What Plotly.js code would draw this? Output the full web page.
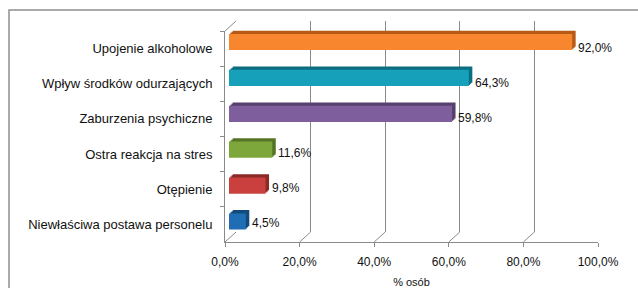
<!DOCTYPE html>
<html><head><meta charset="utf-8">
<script src="https://cdn.plot.ly/plotly-3.0.1.min.js"></script>
<style>html,body{margin:0;padding:0;background:#fff;overflow:hidden}</style>
</head><body><div id="chart" style="width:638px;height:288px"></div>
<script>
// ---- data ----
const categories = ["Upojenie alkoholowe", "Wpływ środków odurzających", "Zaburzenia psychiczne",
                    "Ostra reakcja na stres", "Otępienie", "Niewłaściwa postawa personelu"];
const values = [92.0, 64.3, 59.8, 11.6, 9.8, 4.5];
const xTickValues = [0, 20, 40, 60, 80, 100];
const axisTitle = "% osób";

// ---- style ----
const faceColors = ["#F7862E", "#16A0BA", "#7F5E9E", "#7DA63B", "#C9403E", "#1F6EB5"];
const sideColors = ["#B85A16", "#0C6E82", "#56406F", "#567426", "#8C2A28", "#134B7E"];
const gridColor = "#8a8a8a";
const W = 638, H = 288;
const fx = p => p / W, fy = p => 1 - p / H;
const FRONT = {x0: 225, x1: 598, yt: 31, yb: 242};
const WALL = {dx: 11, dy: 10};
const BAR = {x0: 229, x1: 602, yt: 24.1, yb: 239.4};
const DEPTH = {dx: 3.5, dy: 3.3, steps: 3};
const FONT = "Liberation Sans, Arial, sans-serif";
const fmtPct = v => v.toFixed(1).replace(".", ",") + "%";

function dom(x0, x1, yt, yb) { return {x: [fx(x0), fx(x1)], y: [fy(yb), fy(yt)]}; }

const layout = {
  width: W, height: H, margin: {l: 0, r: 0, t: 0, b: 0},
  paper_bgcolor: "#ffffff", plot_bgcolor: "rgba(0,0,0,0)",
  showlegend: false, separators: ", ", barmode: "overlay",
  font: {family: FONT, color: "#111", size: 12},
  shapes: [], annotations: []
};

// back wall (grid)
const wd = dom(FRONT.x0 + WALL.dx - 0.1, FRONT.x1 + WALL.dx + 0.1, FRONT.yt - WALL.dy, FRONT.yb - WALL.dy);
layout.xaxis = {domain: wd.x, anchor: "y", range: [-0.03, 100.03], tickmode: "array", tickvals: xTickValues, showgrid: true,
  gridcolor: gridColor, gridwidth: 1, showticklabels: false, ticks: "", zeroline: false, showline: false, fixedrange: true};
layout.yaxis = {domain: wd.y, anchor: "x", range: [0, 1], showgrid: false, showticklabels: false, ticks: "",
  zeroline: false, showline: false, fixedrange: true};

// front axes
const fd = dom(FRONT.x0, FRONT.x1, FRONT.yt, FRONT.yb);
layout.xaxis2 = {domain: fd.x, anchor: "y2", range: [0, 100],
  tickmode: "array", tickvals: xTickValues, ticktext: xTickValues.map(fmtPct),
  ticks: "outside", ticklen: 4, tickcolor: gridColor,
  showline: true, linecolor: gridColor, linewidth: 1, showgrid: false, zeroline: false,
  ticklabelstandoff: 5, tickfont: {size: 12, color: "#111"},
  title: {text: axisTitle, font: {size: 11, color: "#111"}, standoff: 15}, fixedrange: true};
layout.yaxis2 = {domain: fd.y, anchor: "x2", type: "category",
  categoryorder: "array", categoryarray: categories, range: [categories.length - 0.5, -0.5],
  ticks: "outside", tickson: "boundaries", ticklen: 4, tickcolor: gridColor,
  showline: true, linecolor: gridColor, linewidth: 1, showgrid: false, zeroline: false,
  ticklabelstandoff: 9, tickfont: {size: 13, color: "#111"}, fixedrange: true};

const traces = [
  {type: "scatter", x: xTickValues, y: xTickValues.map(() => 0.5), xaxis: "x", yaxis: "y",
   mode: "markers", marker: {opacity: 0}, hoverinfo: "skip"},
  {type: "scatter", x: values, y: categories, xaxis: "x2", yaxis: "y2",
   mode: "markers", marker: {opacity: 0}, hoverinfo: "skip"}
];

// bar layers: back (side colors) to front (face colors)
for (let k = 0; k <= DEPTH.steps; k++) {
  const id = 3 + k;
  const f = (DEPTH.steps - k) / DEPTH.steps;
  const d = dom(BAR.x0 + DEPTH.dx * f, BAR.x1 + DEPTH.dx * f, BAR.yt - DEPTH.dy * f, BAR.yb - DEPTH.dy * f);
  layout["xaxis" + id] = {domain: d.x, anchor: "y" + id, range: [0, 100], visible: false, fixedrange: true};
  layout["yaxis" + id] = {domain: d.y, anchor: "x" + id, type: "category",
    categoryorder: "array", categoryarray: categories, range: [categories.length - 0.5, -0.5], visible: false, fixedrange: true};
  traces.push({
    type: "bar", orientation: "h", x: values, y: categories, xaxis: "x" + id, yaxis: "y" + id,
    width: 0.45, hoverinfo: "skip",
    marker: {color: k === DEPTH.steps ? faceColors : sideColors, line: {width: 0}}
  });
}

// data labels
values.forEach((v, i) => {
  layout.annotations.push({xref: "x2", yref: "y2", x: v, y: categories[i],
    text: fmtPct(v), showarrow: false, xanchor: "left", xshift: 8, yshift: 1,
    font: {size: 12, color: "#111"}});
});

// 3D floor / side edges
xTickValues.forEach(v => {
  layout.shapes.push({type: "line", xref: "x2", yref: "y2 domain", xsizemode: "pixel", xanchor: v,
    x0: 0, x1: WALL.dx, ysizemode: "pixel", yanchor: 0, y0: 0, y1: WALL.dy,
    line: {color: gridColor, width: 1}});
});
layout.shapes.push({type: "line", xref: "x2", yref: "y2 domain", xsizemode: "pixel", xanchor: 0,
  x0: 0, x1: WALL.dx, ysizemode: "pixel", yanchor: 1, y0: 0, y1: WALL.dy,
  line: {color: gridColor, width: 1}});

// outer border
layout.shapes.push({type: "rect", xref: "paper", yref: "paper", x0: fx(9), x1: 1.05, y0: -0.05, y1: fy(10),
  line: {color: "#8f8f8f", width: 1.5}, fillcolor: "rgba(0,0,0,0)"});

Plotly.newPlot("chart", traces, layout, {staticPlot: true, displayModeBar: false});
</script></body></html>
